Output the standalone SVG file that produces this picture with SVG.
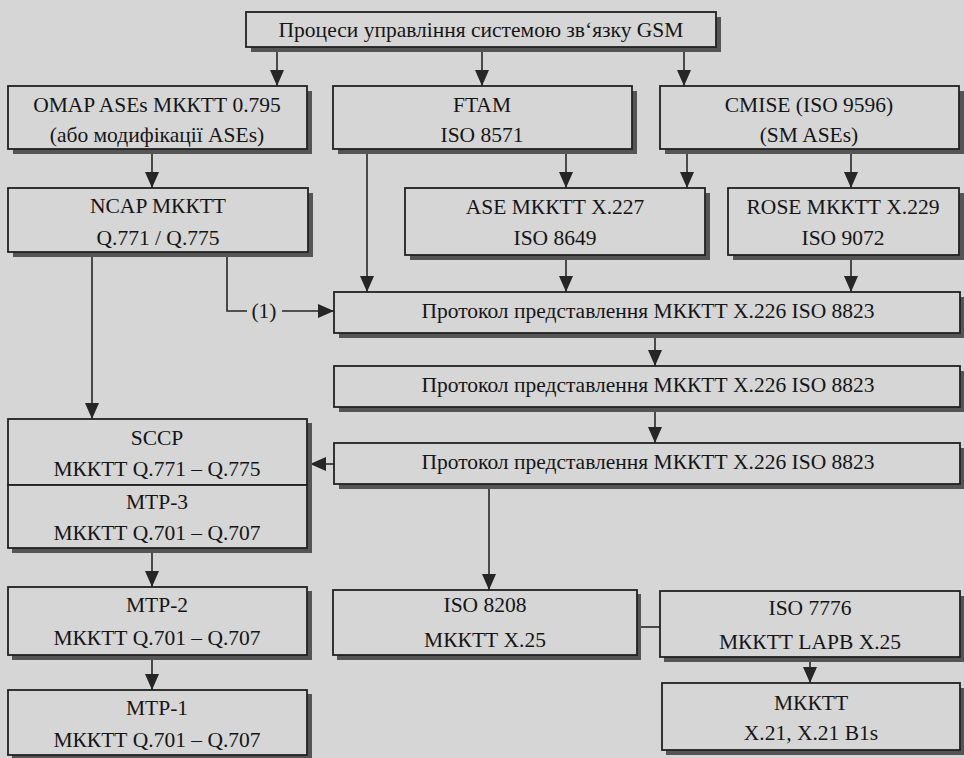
<svg xmlns="http://www.w3.org/2000/svg" width="964" height="758" viewBox="0 0 964 758">
<style>
.bg{fill:#d6d6d6}
.sh{fill:#555555}
.bx{fill:#d6d6d6;stroke:#222222;stroke-width:1.8}
.t{font-family:"Liberation Serif","Times New Roman",serif;font-size:21.5px;fill:#151515;text-anchor:middle;dominant-baseline:central}
.c{fill:none;stroke:#262626;stroke-width:1.6}
.a{marker-end:url(#ah)}
</style>
<defs>
<marker id="ah" viewBox="0 0 16 14" refX="16" refY="7" markerWidth="16" markerHeight="14" markerUnits="userSpaceOnUse" orient="auto">
<path d="M0,0 L16,7 L0,14 Z" fill="#262626"/>
</marker>
</defs>
<rect class="bg" x="0" y="0" width="964" height="758"/>

<g id="connectors">
<line class="c a" x1="277" y1="52" x2="277" y2="86"/>
<line class="c a" x1="482" y1="52" x2="482" y2="86"/>
<line class="c a" x1="684" y1="52" x2="684" y2="86"/>
<line class="c a" x1="152" y1="154" x2="152" y2="188"/>
<line class="c a" x1="367" y1="154" x2="367" y2="292"/>
<line class="c a" x1="566" y1="154" x2="566" y2="188"/>
<line class="c a" x1="687" y1="154" x2="687" y2="188"/>
<line class="c a" x1="851" y1="154" x2="851" y2="188"/>
<polyline class="c" points="227,257 227,311 247,311"/>
<line class="c a" x1="282" y1="311" x2="334" y2="311"/>
<line class="c a" x1="566" y1="260" x2="566" y2="292"/>
<line class="c a" x1="851" y1="260" x2="851" y2="292"/>
<line class="c a" x1="92" y1="257" x2="92" y2="419"/>
<line class="c a" x1="655" y1="338" x2="655" y2="366"/>
<line class="c a" x1="655" y1="412" x2="655" y2="443"/>
<line class="c a" x1="334" y1="464" x2="310" y2="464"/>
<line class="c a" x1="489" y1="489" x2="489" y2="590"/>
<line class="c a" x1="152" y1="553" x2="152" y2="587"/>
<line class="c a" x1="152" y1="660" x2="152" y2="690"/>
<line class="c" x1="641" y1="627" x2="660" y2="627"/>
<line class="c a" x1="810" y1="661" x2="810" y2="683"/>
<text class="t" x="264" y="311">(1)</text>
</g>

<g id="n-gsm">
<rect class="sh" x="251" y="17" width="470" height="35"/>
<rect class="bx" x="246" y="12" width="470" height="35"/>
<text class="t" x="481" y="30">Процеси управління системою зв‘язку GSM</text>
</g>

<g id="n-omap">
<rect class="sh" x="13" y="91" width="299" height="63"/>
<rect class="bx" x="8" y="86" width="299" height="63"/>
<text class="t" x="157" y="105">OMAP ASEs МККТТ 0.795</text>
<text class="t" x="157" y="135">(або модифікації ASEs)</text>
</g>

<g id="n-ftam">
<rect class="sh" x="338" y="91" width="299" height="63"/>
<rect class="bx" x="333" y="86" width="299" height="63"/>
<text class="t" x="482" y="105">FTAM</text>
<text class="t" x="482" y="135">ISO 8571</text>
</g>

<g id="n-cmise">
<rect class="sh" x="665" y="91" width="299" height="63"/>
<rect class="bx" x="660" y="86" width="299" height="63"/>
<text class="t" x="809" y="105">CMISE (ISO 9596)</text>
<text class="t" x="809" y="135">(SM ASEs)</text>
</g>

<g id="n-ncap">
<rect class="sh" x="13" y="193" width="300" height="64"/>
<rect class="bx" x="8" y="188" width="300" height="64"/>
<text class="t" x="158" y="206">NCAP МККТТ</text>
<text class="t" x="158" y="238">Q.771 / Q.775</text>
</g>

<g id="n-ase">
<rect class="sh" x="410" y="193" width="300" height="67"/>
<rect class="bx" x="405" y="188" width="300" height="67"/>
<text class="t" x="555" y="207">ASE МККТТ X.227</text>
<text class="t" x="555" y="238">ISO 8649</text>
</g>

<g id="n-rose">
<rect class="sh" x="733" y="193" width="231" height="67"/>
<rect class="bx" x="728" y="188" width="231" height="67"/>
<text class="t" x="843" y="207">ROSE МККТТ X.229</text>
<text class="t" x="843" y="238">ISO 9072</text>
</g>

<g id="n-pp1">
<rect class="sh" x="339" y="297" width="626" height="41"/>
<rect class="bx" x="334" y="292" width="626" height="41"/>
<text class="t" x="648" y="311">Протокол представлення МККТТ X.226 ISO 8823</text>
</g>

<g id="n-pp2">
<rect class="sh" x="339" y="371" width="626" height="41"/>
<rect class="bx" x="334" y="366" width="626" height="41"/>
<text class="t" x="648" y="385">Протокол представлення МККТТ X.226 ISO 8823</text>
</g>

<g id="n-pp3">
<rect class="sh" x="339" y="448" width="626" height="41"/>
<rect class="bx" x="334" y="443" width="626" height="41"/>
<text class="t" x="648" y="462">Протокол представлення МККТТ X.226 ISO 8823</text>
</g>

<g id="n-sccp">
<rect class="sh" x="12" y="423" width="300" height="130"/>
<rect class="bx" x="8" y="419" width="299" height="66"/>
<text class="t" x="157" y="438">SCCP</text>
<text class="t" x="157" y="469">МККТТ Q.771 – Q.775</text>
</g>

<g id="n-mtp3">
<rect class="bx" x="8" y="485" width="299" height="63"/>
<text class="t" x="157" y="502">MTP-3</text>
<text class="t" x="157" y="533">МККТТ Q.701 – Q.707</text>
</g>

<g id="n-mtp2">
<rect class="sh" x="12" y="591" width="300" height="69"/>
<rect class="bx" x="8" y="587" width="299" height="68"/>
<text class="t" x="157" y="605">MTP-2</text>
<text class="t" x="157" y="638">МККТТ Q.701 – Q.707</text>
</g>

<g id="n-mtp1">
<rect class="sh" x="12" y="694" width="300" height="66"/>
<rect class="bx" x="8" y="690" width="299" height="65"/>
<text class="t" x="157" y="708">MTP-1</text>
<text class="t" x="157" y="740">МККТТ Q.701 – Q.707</text>
</g>

<g id="n-iso8208">
<rect class="sh" x="337" y="594" width="304" height="66"/>
<rect class="bx" x="333" y="590" width="304" height="65"/>
<text class="t" x="485" y="605">ISO 8208</text>
<text class="t" x="485" y="640">МККТТ X.25</text>
</g>

<g id="n-iso7776">
<rect class="sh" x="664" y="596" width="300" height="66"/>
<rect class="bx" x="660" y="591" width="300" height="66"/>
<text class="t" x="810" y="608">ISO 7776</text>
<text class="t" x="810" y="642">МККТТ LAPB X.25</text>
</g>

<g id="n-x21">
<rect class="sh" x="666" y="688" width="298" height="67"/>
<rect class="bx" x="662" y="683" width="298" height="67"/>
<text class="t" x="811" y="703">МККТТ</text>
<text class="t" x="811" y="733">X.21, X.21 B1s</text>
</g>
</svg>
